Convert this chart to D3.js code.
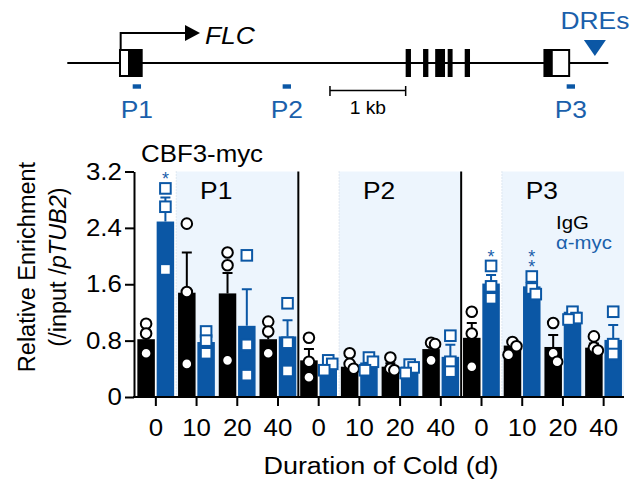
<!DOCTYPE html>
<html>
<head>
<meta charset="utf-8">
<script src="https://cdn.jsdelivr.net/npm/d3@7"></script>
<style>
  body { margin: 0; background: #fff; }
  svg { display: block; font-family: "Liberation Sans", Arial, Helvetica, sans-serif; }
</style>
</head>
<body>
<svg id="chart" width="631" height="483"></svg>
<script>
// ---- data ----
var regions = ["P1", "P2", "P3"];
var days = ["0", "10", "20", "40"];

// one entry per region x day (P1 0,10,20,40 | P2 ... | P3 ...)
var iggMean = [0.82, 1.48, 1.47, 0.82, 0.52, 0.43, 0.43, 0.68, 0.84, 0.73, 0.71, 0.70];
var iggSem  = [0.12, 0.57, 0.29, 0.08, 0.16, 0.07, 0.05, 0.08, 0.21, 0.06, 0.17, 0.06];
var iggPts  = [[1.04, 0.90, 0.62], [2.46, 1.49, 0.47], [2.05, 1.87, 0.52], [1.07, 0.93, 0.62],
               [0.84, 0.50, 0.28], [0.62, 0.47, 0.40], [0.56, 0.40, 0.38], [0.77, 0.75, 0.52],
               [1.21, 0.90, 0.43], [0.78, 0.72, 0.60], [1.05, 0.62, 0.50], [0.86, 0.70, 0.66]];
var mycMean = [2.49, 0.78, 1.01, 0.86, 0.45, 0.49, 0.43, 0.57, 1.61, 1.57, 1.21, 0.81];
var mycSem  = [0.34, 0.09, 0.52, 0.23, 0.04, 0.06, 0.04, 0.17, 0.12, 0.08, 0.05, 0.21];
var mycPts  = [[2.96, 2.70, 1.81], [0.93, 0.80, 0.62], [2.01, 0.74, 0.31], [1.33, 0.77, 0.37],
               [0.52, 0.47, 0.38], [0.56, 0.50, 0.38], [0.46, 0.42, 0.34], [0.87, 0.50, 0.36],
               [1.86, 1.57, 1.40], [1.71, 1.54, 1.46], [1.21, 1.12, 1.10], [1.21, 0.75, 0.61]];
var mycStars = ["*", "", "", "", "", "", "", "", "*", "**", "", ""];
var yTicks = [0, 0.8, 1.6, 2.4, 3.2];

// gene model, in kb from the left end of the line
var geneEnd = 7.147;
var tss = 0.705, tssArrowEnd = 1.753;
var utrBoxes = [[0.696, 0.815], [6.40, 6.63]];
var cdsBoxes = [[0.815, 0.996], [4.47, 4.54], [4.70, 4.77], [4.86, 4.99], [5.025, 5.09], [5.25, 5.32], [6.29, 6.40]];
var amplicons = [[0.864, 0.974], [2.845, 2.955], [6.597, 6.707]];
var scaleBar = [3.47, 4.47];
var dre = 6.97;

var black = "#000", blue = "#0b57a5", textBlue = "#1a60ab", shade = "#edf5fd";
var SX = 1.1; // the figure text is a bit wide

var svg = d3.select("#chart");

function txt(g, s, x, y, size, anchor, color) {
  return g.append("text")
    .attr("transform", "translate(" + x + "," + y + ") scale(" + SX + ",1)")
    .attr("font-size", size)
    .attr("text-anchor", anchor || "start")
    .attr("fill", color || black)
    .text(s);
}

// ---- gene diagram ----
var gx = d3.scaleLinear().domain([0, geneEnd]).range([67.3, 608.3]);
var gene = svg.append("g");
var lineY = 63, boxTop = 50, boxBot = 76;

gene.append("line").attr("x1", gx(0)).attr("x2", gx(geneEnd))
  .attr("y1", lineY).attr("y2", lineY).attr("stroke", black).attr("stroke-width", 2);

gene.selectAll("rect.utr").data(utrBoxes).enter().append("rect")
  .attr("x", function (d) { return gx(d[0]); })
  .attr("width", function (d) { return gx(d[1]) - gx(d[0]); })
  .attr("y", boxTop).attr("height", boxBot - boxTop)
  .attr("fill", "#fff").attr("stroke", black).attr("stroke-width", 2);

gene.selectAll("rect.cds").data(cdsBoxes).enter().append("rect")
  .attr("x", function (d) { return gx(d[0]); })
  .attr("width", function (d) { return gx(d[1]) - gx(d[0]); })
  .attr("y", boxTop - 1).attr("height", boxBot - boxTop + 2)
  .attr("fill", black);

gene.append("path")
  .attr("d", "M" + gx(tss) + "," + boxTop + "V33H" + (gx(tssArrowEnd) - 14))
  .attr("fill", "none").attr("stroke", black).attr("stroke-width", 2);
gene.append("path")
  .attr("d", "M" + (gx(tssArrowEnd) - 15) + ",25L" + gx(tssArrowEnd) + ",33L" + (gx(tssArrowEnd) - 15) + ",41Z")
  .attr("fill", black);
txt(gene, "FLC", gx(tssArrowEnd) + 5, 43.5, 24).attr("font-style", "italic");

gene.selectAll("rect.amp").data(amplicons).enter().append("rect")
  .attr("x", function (d) { return gx(d[0]); })
  .attr("width", function (d) { return gx(d[1]) - gx(d[0]); })
  .attr("y", 84.3).attr("height", 4.4).attr("fill", blue);
amplicons.forEach(function (d, i) {
  txt(gene, regions[i], gx((d[0] + d[1]) / 2), 118, 24, "middle", textBlue);
});

var sb = gene.append("g").attr("stroke", black).attr("stroke-width", 1.5);
sb.append("line").attr("x1", gx(scaleBar[0])).attr("x2", gx(scaleBar[1])).attr("y1", 90.5).attr("y2", 90.5);
scaleBar.forEach(function (k) {
  sb.append("line").attr("x1", gx(k)).attr("x2", gx(k)).attr("y1", 86).attr("y2", 96);
});
txt(gene, "1 kb", gx((scaleBar[0] + scaleBar[1]) / 2), 113.5, 17.5, "middle");

gene.append("path")
  .attr("d", "M" + (gx(dre) - 11) + ",40L" + (gx(dre) + 11) + ",40L" + gx(dre) + ",56Z")
  .attr("fill", blue);
txt(gene, "DREs", gx(dre), 28.5, 24, "middle", textBlue);

// ---- bar chart ----
var x = d3.scaleBand().domain(d3.range(12)).range([135.5, 624]);
var bw = x.bandwidth();
var y = d3.scaleLinear().domain([0, 3.2]).range([397, 171.5]);
var plot = svg.append("g");

// shaded cold-treated columns, divider lines
regions.forEach(function (r, i) {
  var x0 = x(i * 4 + 1), x1 = x(i * 4 + 3) + bw;
  plot.append("rect").attr("x", x0).attr("width", x1 - x0)
    .attr("y", y(3.2)).attr("height", y(0) - y(3.2)).attr("fill", shade);
  plot.append("line").attr("x1", x0).attr("x2", x0).attr("y1", y(3.2)).attr("y2", y(0))
    .attr("stroke", "#c9d6e4").attr("stroke-width", 1).attr("stroke-dasharray", "1,2");
  txt(plot, r, x0 + 40, 198.5, 24, "middle");
});
[4, 8].forEach(function (k) {
  plot.append("line").attr("x1", x(k)).attr("x2", x(k)).attr("y1", y(3.2)).attr("y2", y(0))
    .attr("stroke", black).attr("stroke-width", 2);
});

var series = [
  { mean: iggMean, sem: iggSem, pts: iggPts, color: black, off: -18.5, shape: "circle" },
  { mean: mycMean, sem: mycSem, pts: mycPts, color: blue, off: 0.8, shape: "square" }
];
var barW = 17.5;

series.forEach(function (s) {
  var g = plot.append("g");
  g.selectAll("rect").data(s.mean).enter().append("rect")
    .attr("x", function (d, i) { return x(i) + bw / 2 + s.off; })
    .attr("width", barW)
    .attr("y", function (d) { return y(d); })
    .attr("height", function (d) { return y(0) - y(d); })
    .attr("fill", s.color);

  // error bars (upper half only)
  s.mean.forEach(function (m, i) {
    var cx = x(i) + bw / 2 + s.off + barW / 2;
    g.append("path")
      .attr("d", "M" + cx + "," + y(m) + "V" + y(m + s.sem[i]) + "M" + (cx - 5) + "," + y(m + s.sem[i]) + "H" + (cx + 5))
      .attr("stroke", s.color).attr("stroke-width", 2).attr("fill", "none");
  });

  // replicate points, nudged sideways when they overlap
  s.pts.forEach(function (arr, i) {
    var cx = x(i) + bw / 2 + s.off + barW / 2;
    var sorted = arr.slice().sort(d3.descending);
    var side = 0;
    sorted.forEach(function (v, j) {
      var dx = 0;
      if (j > 0 && sorted[j - 1] - v < 0.13) { side = side === 0 ? 4 : -side; dx = side; }
      else side = 0;
      var py = y(v);
      if (s.shape === "circle") {
        g.append("circle").attr("cx", cx + dx).attr("cy", py).attr("r", 5.3)
          .attr("fill", "#fff").attr("stroke", black).attr("stroke-width", 2);
      } else {
        g.append("rect").attr("x", cx + dx - 5.3).attr("y", py - 5.3).attr("width", 10.6).attr("height", 10.6)
          .attr("fill", "#fff").attr("stroke", blue).attr("stroke-width", 2);
      }
    });
  });
});

// significance stars above the α-myc bars; a text run turned upward with
// each glyph turned back upright, so "**" stacks vertically as one text
var starSize = 18;
mycStars.forEach(function (st, i) {
  if (!st) return;
  var top = Math.max(d3.max(mycPts[i]), mycMean[i] + mycSem[i]);
  var cx = x(i) + bw / 2 + 0.8 + barW / 2 - 0.195 * starSize;
  plot.append("text")
    .attr("transform", "translate(" + cx + "," + (y(top) - 3) + ") rotate(-90)")
    .attr("rotate", "90")
    .attr("font-size", starSize).attr("letter-spacing", 3)
    .attr("fill", textBlue)
    .text(st);
});

// axes
var yAxis = svg.append("g").attr("transform", "translate(134,0)")
  .call(d3.axisLeft(y).tickValues(yTicks).tickSize(9).tickSizeOuter(0).tickPadding(2)
    .tickFormat(function (d) { return d === 0 ? "0" : d3.format(".1f")(d); }));
var xAxis = svg.append("g").attr("transform", "translate(0,397)")
  .call(d3.axisBottom(x).tickSize(9).tickSizeOuter(0).tickPadding(13)
    .tickFormat(function (i) { return days[i % 4]; }));
[yAxis, xAxis].forEach(function (a) {
  a.select(".domain").attr("stroke-width", 2);
  a.selectAll(".tick line").attr("stroke-width", 2);
  a.selectAll(".tick text").attr("font-size", 23.5).attr("fill", black)
    .attr("font-family", null).attr("transform", "scale(" + SX + ",1)");
});
xAxis.select(".domain").attr("d", "M133,0H624");

// titles
txt(svg, "Duration of Cold (d)", 381, 474, 24.5, "middle");
txt(svg, "CBF3-myc", 141, 161.5, 23.5, "start");

var yt = svg.append("text").attr("transform", "translate(35,267) rotate(-90)")
  .attr("font-size", 23.5).attr("text-anchor", "middle");
yt.append("tspan").attr("x", 0).attr("y", 0).text("Relative Enrichment");
var yt2 = yt.append("tspan").attr("x", 0).attr("y", 31);
yt2.append("tspan").text("(/input /");
yt2.append("tspan").attr("font-style", "italic").text("pTUB2");
yt2.append("tspan").text(")");

// legend
txt(svg, "IgG", 556, 228.5, 18.5, "start");
txt(svg, "α-myc", 556, 248.5, 18.5, "start", textBlue);
</script>
</body>
</html>
